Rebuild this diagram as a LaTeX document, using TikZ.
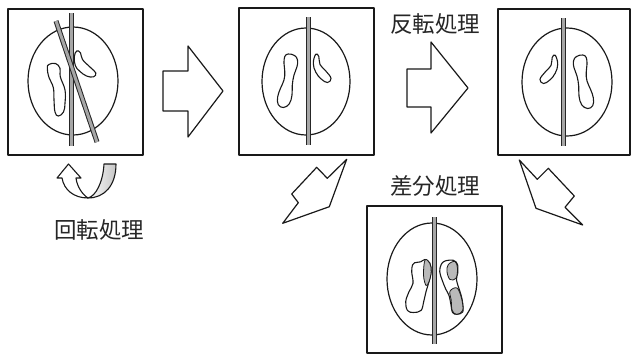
\documentclass[tikz,border=0pt]{standalone}
\usepackage{fontspec}
\newfontfamily\jpfont{Noto Sans CJK JP}
\begin{document}
\begin{tikzpicture}[x=1pt,y=-1pt,line join=round,
  frame/.style={draw=black!90,line width=1.4pt},
  skull/.style={draw=black!90,line width=1.2pt},
  organ/.style={draw=black!90,line width=1.1pt,fill=white},
  patch/.style={fill=gray!55,draw=black!90,line width=0.8pt},
  midbar/.style={draw=black!85,line width=1pt,double=gray!70,double distance=3pt},
  blockarrow/.style={draw=black!90,line width=1.2pt,fill=white},
  caption/.style={font=\jpfont\fontsize{22.5}{24}\selectfont,text=black!85,inner sep=0pt}]
\useasboundingbox (0,0) rectangle (632,354);

% ---- panel 1: tilted image before rotation ----
\draw[frame] (8,9) rectangle (143,155);
\draw[skull] (73,81) ellipse [x radius=45,y radius=54];
\draw[organ] plot[smooth cycle,tension=0.7] coordinates {(48.8,64.5) (55.5,63.5) (60,68.3) (60.3,76.7) (65,90) (65,103) (63.5,112) (58.3,116) (55,112) (54,100) (53.3,87.5) (49,77.5) (47.3,68.3)};
\draw[organ] plot[smooth cycle,tension=0.7] coordinates {(76.7,51) (80.5,52.8) (82.5,59.5) (90.5,67.5) (95.8,73) (93.5,76.8) (86.5,76) (79.5,71) (75.3,65.5) (74.3,56.7)};
\draw[midbar] (71.5,13) -- (71.5,146);
\draw[midbar] (56,21) -- (97,142);

% ---- rotation arrow under panel 1 ----
\path[left color=white,right color=gray!45]
  (104,164) .. controls (103,182) and (96,196) .. (88,198)
  .. controls (104,198) and (116,186) .. (116,164) -- cycle;
\draw[line width=1.1pt,draw=black!90]
  (104,164) .. controls (103,182) and (96,196) .. (88,198)
  .. controls (104,198) and (116,186) .. (116,164) -- cycle;
\draw[line width=1.1pt,draw=black!90,fill=white]
  (88,198) .. controls (74,198) and (64,190) .. (62,178)
  -- (57,178) -- (68.5,164) -- (81,178) -- (76,178)
  .. controls (77,187) and (83,195) .. (88,198);

\node[caption] (rotlabel) at (99,230) {回転処理};

% ---- arrow 1 ----
\draw[blockarrow] (163,71) -- (188,71) -- (188,46) -- (223,91) -- (188,137) -- (188,111) -- (163,111) -- cycle;

% ---- panel 2: aligned image ----
\draw[frame] (239,8) rectangle (374,155);
\draw[skull] (306,81.5) ellipse [x radius=44,y radius=53.5];
\draw[organ] plot[smooth cycle,tension=0.7] coordinates {(288.3,54) (294.5,55.5) (297.5,60) (297,66.7) (294,75) (292.3,85) (292,95) (289.3,103.8) (283.3,107.5) (278.2,104.5) (277.7,96.7) (280.5,88.3) (284,80) (284.8,71.7) (284,63.3) (284.8,56.5)};
\draw[organ] plot[smooth cycle,tension=0.7] coordinates {(315.7,54.3) (318.8,56.5) (320,64.5) (325.8,71) (331,78.3) (327.5,82.5) (321.2,79) (315.8,72.2) (313.3,63.3)};
\draw[midbar] (308,17) -- (308,145);

% ---- arrow 2 with label ----
\node[caption] (fliplabel) at (435,24) {反転処理};
\draw[blockarrow] (407,69) -- (431,69) -- (431,42) -- (468,88) -- (431,133) -- (431,107) -- (407,107) -- cycle;

% ---- panel 3: mirrored image ----
\draw[frame] (498,9) rectangle (630,155);
\draw[skull] (567,82) ellipse [x radius=45,y radius=54];
\begin{scope}[shift={(871,1)},xscale=-1]
\draw[organ] plot[smooth cycle,tension=0.7] coordinates {(288.3,54) (294.5,55.5) (297.5,60) (297,66.7) (294,75) (292.3,85) (292,95) (289.3,103.8) (283.3,107.5) (278.2,104.5) (277.7,96.7) (280.5,88.3) (284,80) (284.8,71.7) (284,63.3) (284.8,56.5)};
\draw[organ] plot[smooth cycle,tension=0.7] coordinates {(315.7,54.3) (318.8,56.5) (320,64.5) (325.8,71) (331,78.3) (327.5,82.5) (321.2,79) (315.8,72.2) (313.3,63.3)};
\end{scope}
\draw[midbar] (563,18) -- (563,146);

% ---- zigzag arrows towards the difference image ----
\draw[blockarrow] (346.7,159.3) -- (327.3,178.3) -- (316.7,167.3) -- (291.7,194) -- (298.3,202.7) -- (282.7,223.3) -- (329.3,206.7) -- cycle;
\draw[blockarrow] (519.3,160) -- (537.3,179.3) -- (548.3,168.3) -- (574.3,196) -- (565,207.3) -- (582.7,225) -- (536,208.3) -- cycle;

% ---- panel 4: difference image ----
\node[caption] (difflabel) at (435,186) {差分処理};
\draw[frame] (367,206) rectangle (502,353);
\draw[skull] (432,279) ellipse [x radius=45,y radius=56];
\draw[organ] plot[smooth cycle,tension=0.6] coordinates {(414.5,262.8) (420.7,261.8) (425,259.5) (429.8,263) (431.2,271.7) (429,281.7) (426,291.7) (423.7,301.7) (421,310.5) (413.3,312.5) (407.5,310.5) (405.7,301.7) (409,291.7) (413,283.3) (411.7,271.7) (412.5,265)};
\draw[patch] plot[smooth cycle,tension=0.6] coordinates {(425,260) (429.8,263.3) (431.2,271.7) (429,281.7) (426,285.5) (423.5,275)};
\draw[organ] plot[smooth cycle,tension=0.6] coordinates {(441.2,264.5) (445,261) (453.3,260.3) (457.5,264.5) (457.7,273.3) (456.5,280) (461,295) (462.7,303.3) (462.7,312) (456.7,314.3) (452.5,312.3) (450.7,303.3) (449,295.5) (445.7,289) (442.3,280.5) (439.7,271.7)};
\draw[patch] plot[smooth cycle,tension=0.6] coordinates {(448.3,264.5) (455,261.5) (457.5,268.3) (456,278.3) (450,279.5) (447,271.7)};
\draw[patch] plot[smooth cycle,tension=0.6] coordinates {(450,291.2) (457,288) (461.5,298.3) (462.7,310.5) (456.7,314.3) (452.2,310.5) (451.2,300)};
\draw[midbar] (434,217) -- (434,344);
\end{tikzpicture}
\end{document}
